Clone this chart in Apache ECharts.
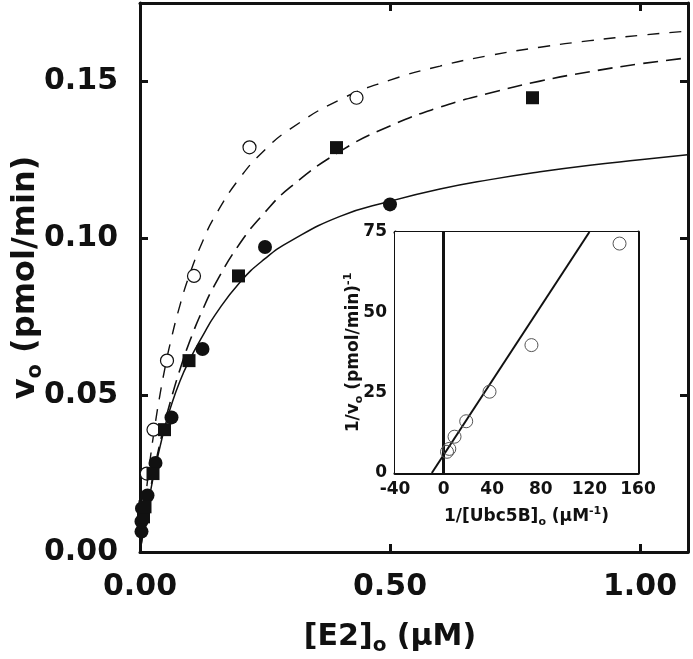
<!DOCTYPE html>
<html><head><meta charset="utf-8">
<script src="https://cdn.jsdelivr.net/npm/echarts@6/dist/echarts.min.js"></script>
<style>html,body{margin:0;padding:0;background:#fff}#c{width:693px;height:659px}</style>
</head><body><div id="c"></div><script>
// ---- main plot: fitted curves ----
const curveX      = [0, 0.005, 0.01, 0.02, 0.03, 0.04, 0.05, 0.06, 0.08, 0.1, 0.125, 0.15, 0.2, 0.25, 0.3, 0.4, 0.5, 0.6, 0.7, 0.8, 0.9, 1.0, 1.1];
const curveUpper  = [0, 0.0083, 0.0158, 0.0291, 0.0404, 0.0502, 0.0587, 0.0662, 0.0787, 0.0888, 0.0989, 0.1071, 0.1193, 0.1282, 0.1348, 0.1442, 0.1504, 0.1549, 0.1583, 0.1609, 0.1630, 0.1647, 0.1661];
const curveMiddle = [0, 0.0052, 0.0101, 0.0192, 0.0273, 0.0347, 0.0414, 0.0475, 0.0582, 0.0674, 0.0771, 0.0853, 0.0984, 0.1083, 0.1162, 0.1277, 0.1358, 0.1418, 0.1463, 0.1501, 0.1531, 0.1556, 0.1576];
const curveSolid  = [0, 0.0050, 0.0098, 0.0185, 0.0265, 0.0335, 0.0400, 0.0455, 0.0545, 0.0615, 0.0688, 0.0755, 0.0860, 0.0935, 0.0990, 0.1070, 0.1118, 0.1157, 0.1187, 0.1212, 0.1233, 0.1250, 0.1267];
// ---- main plot: data points ----
const openX   = [0.007, 0.0135, 0.027, 0.054, 0.108, 0.219, 0.433];
const openY   = [0.014, 0.025, 0.039, 0.061, 0.088, 0.129, 0.1448];
const squareX = [0.007, 0.010, 0.026, 0.049, 0.098, 0.197, 0.393, 0.785];
const squareY = [0.0112, 0.0144, 0.025, 0.039, 0.061, 0.088, 0.1289, 0.1448];
const filledX = [0.003, 0.003, 0.004, 0.015, 0.031, 0.063, 0.125, 0.25, 0.5];
const filledY = [0.0065, 0.0097, 0.0139, 0.018, 0.0284, 0.0429, 0.0647, 0.0972, 0.1108];
// ---- inset: double reciprocal ----
const insetX = [144.8, 72.3, 37.8, 18.6, 9.0, 4.7, 2.8];
const insetY = [71.4, 39.8, 25.3, 16.1, 11.3, 7.5, 6.6];
const fitX = [-9.7, 120];
const fitY = [0, 75];
// ---- ticks ----
const mainXTicks = {min: 0, max: 1.096, interval: 0.5};
const mainYTicks = {min: 0, max: 0.175, interval: 0.05};
const insetXTicks = {min: -40, max: 160, interval: 40};
const insetYTicks = {min: 0, max: 75, interval: 25};

const FF = '"DejaVu Sans", sans-serif';
const zip = (a, b) => a.map((v, i) => [v, b[i]]);
const onTick = (iv, fmt) => v => Math.abs(v / iv - Math.round(v / iv)) < 1e-6 ? fmt(v) : '';

function axis(grid, pos, t, opts) {
  const lw = opts.lw;
  const o = {
    gridIndex: grid, type: 'value', position: pos,
    min: t.min, max: t.max, interval: t.interval,
    axisLine: {show: true, onZero: false, lineStyle: {color: '#111', width: lw}},
    axisTick: {show: true, inside: true, length: opts.tick, lineStyle: {color: '#111', width: lw}},
    splitLine: {show: false},
    axisLabel: opts.label ? {
      show: true, fontSize: opts.fs, fontWeight: 'bold', color: '#111', fontFamily: FF,
      margin: opts.margin, formatter: onTick(t.interval, opts.fmt)
    } : {show: false}
  };
  if (opts.name) {
    o.name = opts.name; o.nameLocation = 'middle'; o.nameGap = opts.nameGap;
    o.nameMoveOverlap = false;
    if (opts.rot != null) o.nameRotate = opts.rot;
    o.nameTextStyle = {rich: opts.rich};
    if (opts.pad) o.nameTextStyle.padding = opts.pad;
  }
  return o;
}

function richSet(fs, sub, subLH, lh) {
  return {
    a: {fontSize: fs, fontWeight: 'bold', fontFamily: FF, color: '#111', lineHeight: lh},
    s: {fontSize: sub, fontWeight: 'bold', fontFamily: FF, color: '#111', lineHeight: subLH, verticalAlign: 'bottom'},
    p: {fontSize: sub, fontWeight: 'bold', fontFamily: FF, color: '#111', lineHeight: subLH + 4, verticalAlign: 'top'}
  };
}
const richX = richSet(30, 20, 14, 38);
const richY = richSet(32, 21, 15, 40);
const richInset = richSet(17, 11, 9, 22);

const option = {
  animation: false,
  backgroundColor: '#fff',
  grid: [
    {left: 140, top: 3, right: 5, bottom: 107, containLabel: false, outerBoundsMode: 'none'},
    {left: 395, top: 232, right: 55, bottom: 186, containLabel: false, outerBoundsMode: 'none',
     show: true, backgroundColor: '#fff', borderWidth: 0, z: 5}
  ],
  xAxis: [
    axis(0, 'bottom', mainXTicks, {lw: 3, tick: 8, label: true, fs: 30, margin: 20, fmt: v => v.toFixed(2),
      name: '{a|[E2]}{s|o}{a| (μM)}', nameGap: 66, rich: richX, pad: [0, 48, 0, 0]}),
    axis(0, 'top', mainXTicks, {lw: 3, tick: 8, label: false}),
    axis(1, 'bottom', insetXTicks, {lw: 3, tick: 5, label: true, fs: 17, margin: 8, fmt: v => String(v),
      name: '{a|1/[Ubc5B]}{s|o}{a| (μM}{p|-1}{a|)}', nameGap: 33, rich: richInset, pad: [0, 0, 0, 20]}),
    axis(1, 'top', insetXTicks, {lw: 3, tick: 5, label: false})
  ],
  yAxis: [
    axis(0, 'left', mainYTicks, {lw: 3, tick: 8, label: true, fs: 30, margin: 22, fmt: v => v.toFixed(2),
      name: '{a|v}{s|o}{a| (pmol/min)}', nameGap: 94, rot: 90, rich: richY}),
    axis(0, 'right', mainYTicks, {lw: 3, tick: 8, label: false}),
    axis(1, 'left', insetYTicks, {lw: 3, tick: 5, label: true, fs: 17, margin: 8, fmt: v => String(v),
      name: '{a|1/v}{s|o}{a| (pmol/min)}{p|-1}', nameGap: 30, rot: 90, rich: richInset}),
    axis(1, 'right', insetYTicks, {lw: 3, tick: 5, label: false})
  ],
  series: [
    {type: 'line', xAxisIndex: 0, yAxisIndex: 0, data: zip(curveX, curveUpper), smooth: 0.5,
     showSymbol: false, lineStyle: {color: '#111', width: 1.4, type: [12, 10]}, z: 2},
    {type: 'line', xAxisIndex: 0, yAxisIndex: 0, data: zip(curveX, curveMiddle), smooth: 0.5,
     showSymbol: false, lineStyle: {color: '#111', width: 1.6, type: [15, 8]}, z: 2},
    {type: 'line', xAxisIndex: 0, yAxisIndex: 0, data: zip(curveX, curveSolid), smooth: 0.5,
     showSymbol: false, lineStyle: {color: '#111', width: 1.5}, z: 2},
    {type: 'scatter', xAxisIndex: 0, yAxisIndex: 0, data: zip(openX, openY), symbol: 'circle', symbolSize: 13,
     itemStyle: {color: '#fff', borderColor: '#111', borderWidth: 1.2, opacity: 1}, z: 3},
    {type: 'scatter', xAxisIndex: 0, yAxisIndex: 0, data: zip(filledX, filledY), symbol: 'circle', symbolSize: 14,
     itemStyle: {color: '#111', opacity: 1}, z: 4},
    {type: 'scatter', xAxisIndex: 0, yAxisIndex: 0, data: zip(squareX, squareY), symbol: 'rect', symbolSize: 13,
     itemStyle: {color: '#111', opacity: 1}, z: 5},
    {type: 'line', xAxisIndex: 2, yAxisIndex: 2, data: zip(fitX, fitY), showSymbol: false,
     lineStyle: {color: '#111', width: 2}, z: 6,
     markLine: {silent: true, symbol: ['none', 'none'], label: {show: false},
       lineStyle: {color: '#111', width: 3, type: 'solid'}, data: [{xAxis: 0}]}},
    {type: 'scatter', xAxisIndex: 2, yAxisIndex: 2, data: zip(insetX, insetY), symbol: 'circle', symbolSize: 13,
     itemStyle: {color: 'rgba(0,0,0,0)', borderColor: '#555', borderWidth: 1, opacity: 1}, z: 7}
  ]
};
const chart = echarts.init(document.getElementById('c'));
chart.setOption(option);
</script></body></html>
